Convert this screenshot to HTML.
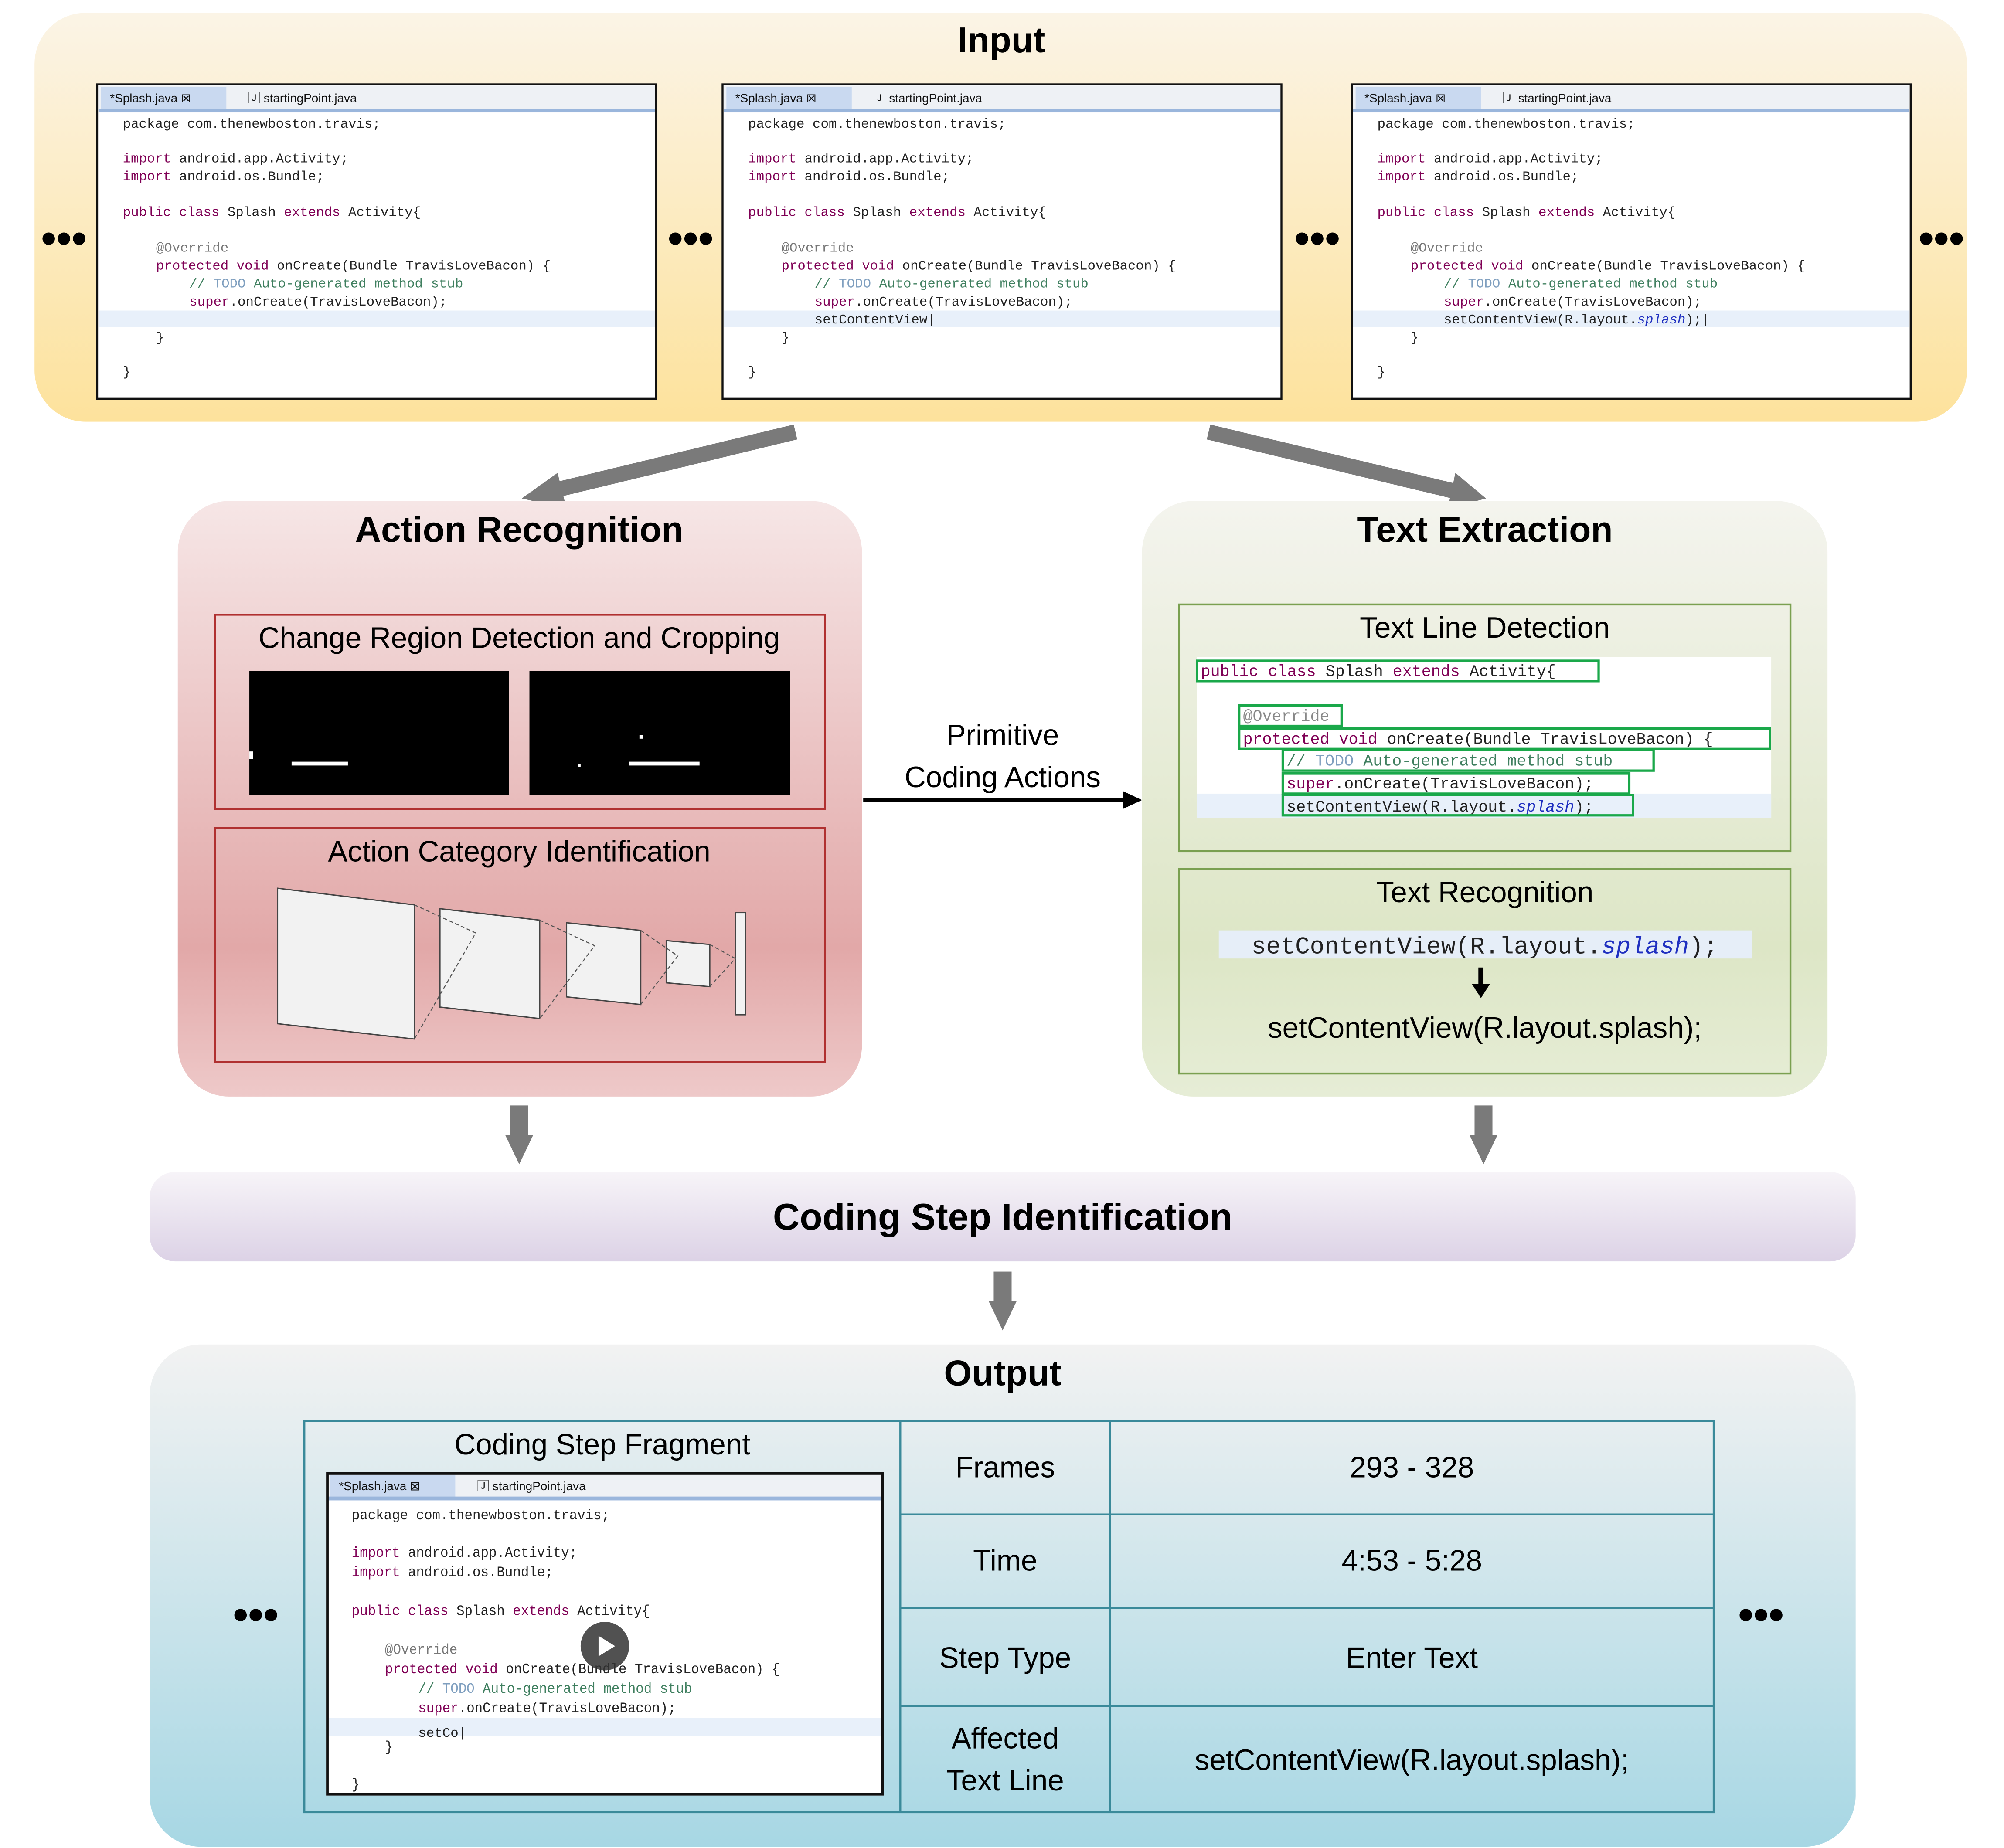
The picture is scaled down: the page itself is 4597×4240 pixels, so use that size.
<!DOCTYPE html>
<html><head><meta charset="utf-8"><style>
html,body{margin:0;padding:0;background:#fff;}
svg{display:block;}
.t{font-family:"Liberation Sans","DejaVu Sans",sans-serif;}
.m{font-family:"Liberation Mono","DejaVu Sans Mono",monospace;}
</style></head><body>
<svg width="4597" height="4240" viewBox="0 0 1567 1446" preserveAspectRatio="none" xmlns="http://www.w3.org/2000/svg">
<defs>
<linearGradient id="gIn" x1="0" y1="0" x2="0" y2="1"><stop offset="0" stop-color="#fbf4e6"/><stop offset="1" stop-color="#fde29c"/></linearGradient>
<linearGradient id="gAR" x1="0" y1="0" x2="0" y2="1"><stop offset="0" stop-color="#f6e6e6"/><stop offset="0.75" stop-color="#e2a8a8"/><stop offset="1" stop-color="#eec9c9"/></linearGradient>
<linearGradient id="gTE" x1="0" y1="0" x2="0" y2="1"><stop offset="0" stop-color="#f4f4ee"/><stop offset="0.75" stop-color="#dde6c6"/><stop offset="1" stop-color="#e6edd6"/></linearGradient>
<linearGradient id="gCS" x1="0" y1="0" x2="0" y2="1"><stop offset="0" stop-color="#f7f4f8"/><stop offset="1" stop-color="#dcd2e6"/></linearGradient>
<linearGradient id="gOut" x1="0" y1="0" x2="0" y2="1"><stop offset="0" stop-color="#f2f2f2"/><stop offset="1" stop-color="#a7d7e4"/></linearGradient>
<g id="tabbar">
<rect x="1" y="1" width="435" height="19" fill="#eef1f5"/>
<rect x="3" y="2" width="98" height="18" fill="#c9d9f0"/>
<rect x="1" y="19" width="435" height="3" fill="#9ab6dc"/>
<text x="10" y="14" class="t" font-size="9.5" fill="#111">*Splash.java  ⊠</text>
<text x="118" y="14" class="t" font-size="9.5" fill="#111">🄹 startingPoint.java</text>
</g>
<g id="frame">
<rect x="0" y="0" width="437" height="246" fill="#fff" stroke="#111" stroke-width="1.5"/>
<use href="#tabbar"/>
</g>
<g id="code">
<rect x="1" y="177" width="435" height="13" fill="#e8f0fa"/>
<g class="m" font-size="10.5" fill="#222">
<text x="20" y="34">package com.thenewboston.travis;</text>
<text x="20" y="61"><tspan fill="#7f0055">import</tspan> android.app.Activity;</text>
<text x="20" y="75"><tspan fill="#7f0055">import</tspan> android.os.Bundle;</text>
<text x="20" y="103"><tspan fill="#7f0055">public class</tspan> Splash <tspan fill="#7f0055">extends</tspan> Activity{</text>
<text x="46" y="131" fill="#777">@Override</text>
<text x="46" y="145"><tspan fill="#7f0055">protected void</tspan> onCreate(Bundle TravisLoveBacon) {</text>
<text x="72" y="159" fill="#3f7f5f">// <tspan fill="#7f9fbf">TODO</tspan> Auto-generated method stub</text>
<text x="72" y="173"><tspan fill="#7f0055">super</tspan>.onCreate(TravisLoveBacon);</text>
<text x="46" y="201">}</text>
<text x="20" y="228">}</text>
</g>
</g>
</defs>

<!-- Input -->
<rect x="27" y="10" width="1511" height="320" rx="40" fill="url(#gIn)"/>
<text x="783" y="41" text-anchor="middle" class="t" font-size="28" font-weight="bold">Input</text>
<use href="#frame" x="76" y="66"/><use href="#code" x="76" y="66"/>
<use href="#frame" x="565" y="66"/><use href="#code" x="565" y="66"/>
<text x="637" y="253" class="m" font-size="10.5" fill="#222">setContentView|</text>
<use href="#frame" x="1057" y="66"/><use href="#code" x="1057" y="66"/>
<text x="1129" y="253" class="m" font-size="10.5" fill="#222">setContentView(R.layout.<tspan fill="#2030c0" font-style="italic">splash</tspan>);|</text>
<g class="t" font-size="34" font-weight="bold" text-anchor="middle">
<text x="50" y="198">•••</text><text x="540" y="198">•••</text><text x="1030" y="198">•••</text><text x="1518" y="198">•••</text>
</g>

<!-- input arrows -->
<line x1="622" y1="338" x2="428" y2="385" stroke="#7a7a7a" stroke-width="12"/>
<polygon points="408,390 436,370 443,398" fill="#7a7a7a"/>
<line x1="945" y1="338" x2="1140" y2="385" stroke="#7a7a7a" stroke-width="12"/>
<polygon points="1162,390 1132,398 1138,370" fill="#7a7a7a"/>

<!-- Action Recognition -->
<rect x="139" y="392" width="535" height="466" rx="40" fill="url(#gAR)"/>
<text x="406" y="424" text-anchor="middle" class="t" font-size="28" font-weight="bold">Action Recognition</text>
<rect x="168" y="481" width="477" height="152" fill="none" stroke="#b03030" stroke-width="1.5"/>
<text x="406" y="507" text-anchor="middle" class="t" font-size="23">Change Region Detection and Cropping</text>
<rect x="195" y="525" width="203" height="97" fill="#000"/>
<rect x="414" y="525" width="204" height="97" fill="#000"/>
<rect x="228" y="596" width="44" height="3" fill="#fff"/><rect x="195" y="588" width="3" height="6" fill="#fff"/>
<rect x="492" y="596" width="55" height="3" fill="#fff"/><rect x="500" y="575" width="3" height="3" fill="#fff"/><rect x="452" y="598" width="2" height="2" fill="#fff"/>
<rect x="168" y="648" width="477" height="183" fill="none" stroke="#b03030" stroke-width="1.5"/>
<text x="406" y="674" text-anchor="middle" class="t" font-size="23">Action Category Identification</text>
<g fill="#f2f2f2" stroke="#444" stroke-width="1">
<polygon points="217,695 324,708 324,813 217,801"/>
<polygon points="344,711 422,720 422,797 344,788"/>
<polygon points="443,722 501,728 501,786 443,780"/>
<polygon points="521,736 555,739 555,772 521,769"/>
<rect x="575" y="714" width="8" height="80"/>
</g>
<g stroke="#555" stroke-width="0.8" stroke-dasharray="3,2" fill="none">
<path d="M324,708 L372,730 L324,813"/><path d="M422,720 L465,740 L422,797"/><path d="M501,728 L530,748 L501,786"/><path d="M555,739 L575,750 L555,772"/>
</g>

<!-- middle arrow -->
<text x="784" y="583" text-anchor="middle" class="t" font-size="23">Primitive</text>
<text x="784" y="616" text-anchor="middle" class="t" font-size="23">Coding Actions</text>
<line x1="675" y1="626" x2="880" y2="626" stroke="#000" stroke-width="2.5"/>
<polygon points="893,626 878,619 878,633" fill="#000"/>

<!-- Text Extraction -->
<rect x="893" y="392" width="536" height="466" rx="40" fill="url(#gTE)"/>
<text x="1161" y="424" text-anchor="middle" class="t" font-size="28" font-weight="bold">Text Extraction</text>
<rect x="922" y="473" width="478" height="193" fill="none" stroke="#7aa050" stroke-width="1.5"/>
<text x="1161" y="499" text-anchor="middle" class="t" font-size="23">Text Line Detection</text>
<rect x="936" y="514" width="449" height="126" fill="#fff"/>
<rect x="936" y="621" width="449" height="19" fill="#e8f0fa"/>
<g class="m" font-size="12.5" fill="#222">
<text x="939" y="529"><tspan fill="#7f0055">public class</tspan> Splash <tspan fill="#7f0055">extends</tspan> Activity{</text>
<text x="972" y="564" fill="#888">@Override</text>
<text x="972" y="582"><tspan fill="#7f0055">protected void</tspan> onCreate(Bundle TravisLoveBacon) {</text>
<text x="1006" y="599" fill="#3f7f5f">// <tspan fill="#7f9fbf">TODO</tspan> Auto-generated method stub</text>
<text x="1006" y="617"><tspan fill="#7f0055">super</tspan>.onCreate(TravisLoveBacon);</text>
<text x="1006" y="635">setContentView(R.layout.<tspan fill="#2030c0" font-style="italic">splash</tspan>);</text>
</g>
<g fill="none" stroke="#1aa84a" stroke-width="1.8">
<rect x="936" y="517" width="314" height="16"/>
<rect x="969" y="552" width="80" height="16"/>
<rect x="969" y="570" width="415" height="16"/>
<rect x="1003" y="587" width="290" height="16"/>
<rect x="1003" y="605" width="271" height="16"/>
<rect x="1003" y="622" width="274" height="16"/>
</g>
<rect x="922" y="680" width="478" height="160" fill="none" stroke="#7aa050" stroke-width="1.5"/>
<text x="1161" y="706" text-anchor="middle" class="t" font-size="23">Text Recognition</text>
<rect x="953" y="728" width="417" height="22" fill="#e6eef8"/>
<text x="1161" y="746" text-anchor="middle" class="m" font-size="19" fill="#222">setContentView(R.layout.<tspan fill="#2030c0" font-style="italic">splash</tspan>);</text>
<line x1="1158" y1="757" x2="1158" y2="772" stroke="#000" stroke-width="4"/>
<polygon points="1151,770 1165,770 1158,781" fill="#000"/>
<text x="1161" y="812" text-anchor="middle" class="t" font-size="23">setContentView(R.layout.splash);</text>

<!-- down arrows -->
<g fill="#7a7a7a">
<rect x="399" y="865" width="14" height="25"/><polygon points="395,888 417,888 406,911"/>
<rect x="1153" y="865" width="14" height="25"/><polygon points="1149,888 1171,888 1160,911"/>
<rect x="777" y="995" width="14" height="25"/><polygon points="773,1018 795,1018 784,1041"/>
</g>

<!-- Coding step -->
<rect x="117" y="917" width="1334" height="70" rx="20" fill="url(#gCS)"/>
<text x="784" y="962" text-anchor="middle" class="t" font-size="29" font-weight="bold">Coding Step Identification</text>

<!-- Output -->
<rect x="117" y="1052" width="1334" height="393" rx="40" fill="url(#gOut)"/>
<text x="784" y="1084" text-anchor="middle" class="t" font-size="28" font-weight="bold">Output</text>
<g fill="none" stroke="#3a8a9a" stroke-width="1.5">
<rect x="238" y="1112" width="1102" height="306"/>
<line x1="704" y1="1112" x2="704" y2="1418"/>
<line x1="868" y1="1112" x2="868" y2="1418"/>
<line x1="704" y1="1185" x2="1340" y2="1185"/>
<line x1="704" y1="1258" x2="1340" y2="1258"/>
<line x1="704" y1="1335" x2="1340" y2="1335"/>
</g>
<g class="t" font-size="23" text-anchor="middle">
<text x="471" y="1138">Coding Step Fragment</text>
<text x="786" y="1156">Frames</text><text x="1104" y="1156">293 - 328</text>
<text x="786" y="1229">Time</text><text x="1104" y="1229">4:53 - 5:28</text>
<text x="786" y="1305">Step Type</text><text x="1104" y="1305">Enter Text</text>
<text x="786" y="1368">Affected</text><text x="786" y="1401">Text Line</text>
<text x="1104" y="1385">setContentView(R.layout.splash);</text>
</g>
<svg x="255" y="1152" width="436" height="253" viewBox="0 0 436 253" overflow="hidden">
<rect x="0" y="0" width="436" height="253" fill="#fff"/>
<g transform="scale(1,1.085)"><use href="#code"/></g>
<use href="#tabbar"/>
<rect x="1" y="1" width="434" height="251" fill="none" stroke="#111" stroke-width="2"/>
</svg>
<text x="327" y="1359" class="m" font-size="10.5" fill="#222">setCo|</text>
<circle cx="473" cy="1288" r="19" fill="#333" opacity="0.85"/>
<polygon points="468,1280 468,1296 481,1288" fill="#fff"/>
<g class="t" font-size="34" font-weight="bold" text-anchor="middle">
<text x="200" y="1275">•••</text><text x="1377" y="1275">•••</text>
</g>
</svg>
</body></html>
